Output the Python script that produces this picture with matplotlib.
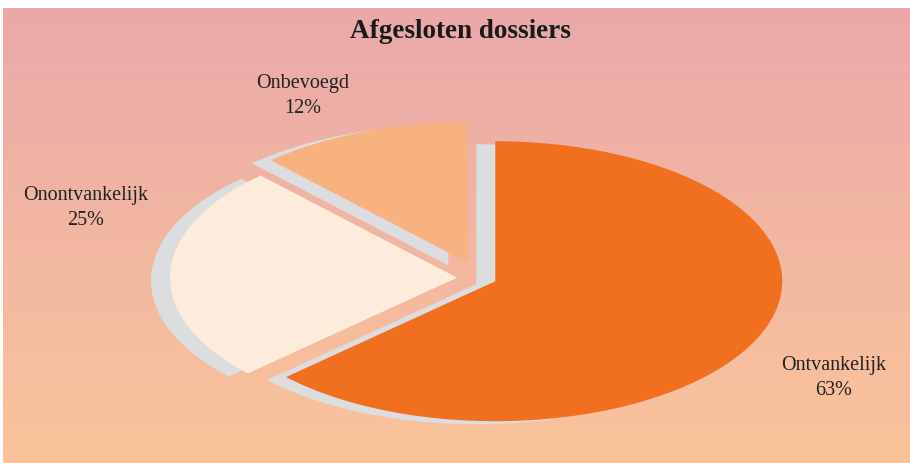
import numpy as np
import matplotlib
matplotlib.use("Agg")
from matplotlib import pyplot as plt

# data
labels = ["Ontvankelijk", "Onontvankelijk", "Onbevoegd"]
shares = [63, 25, 12]
explode = [0.058, 0.08, 0.12]
colors = ["#F07020", "#FDEBDC", "#F8B27F"]
shadow_col = "#DCDDDF"
title = "Afgesloten dossiers"

W, H = 910, 464
fig = plt.figure(figsize=(W / 100, H / 100), dpi=100)

# gradient background (pink at top -> peach at bottom)
bg = fig.add_axes([3 / W, 0, 1 - 3 / W, 1 - 9 / H])
top = np.array([234, 169, 169]) / 255
bot = np.array([250, 196, 155]) / 255
t = np.linspace(0, 1, 256)[:, None]
grad = top[None, :] * (1 - t) + bot[None, :] * t
bg.imshow(grad[:, None, :], aspect="auto", extent=[0, 1, 0, 1])
bg.axis("off")

# pie axes, scaled so the pie becomes a flat ellipse
ax = fig.add_axes([0, 0, 1, 1])
ax.patch.set_alpha(0)
rx, ry = 287, 140          # ellipse radii in pixels
cx, cy = 480, 279          # centre in pixels (from top-left)

# shadow first
ax.pie(shares, explode=explode, colors=[shadow_col] * 3, startangle=90,
       counterclock=False, center=(-19 / rx, -3 / ry),
       wedgeprops=dict(linewidth=0))
ax.pie(shares, explode=explode, colors=colors, startangle=90,
       counterclock=False, wedgeprops=dict(linewidth=0))
ax.set_aspect("auto")
ax.set_xlim(-cx / rx, (W - cx) / rx)
ax.set_ylim(-(H - cy) / ry, cy / ry)
ax.axis("off")

font = "Liberation Serif"
label_pos = [(834, 378), (86, 208), (303, 96)]
for name, val, (px, py) in zip(labels, shares, label_pos):
    fig.text(px / W, 1 - py / H, f"{name}\n{val}%", ha="center", va="center",
             fontsize=14.5, family=font, color="#222222", linespacing=1.45)

fig.text(460 / W, 1 - 31 / H, title, ha="center", va="center",
         fontsize=19.5, fontweight="bold", family=font, color="#1a1a1a")

fig.savefig("out.png", dpi=100)
